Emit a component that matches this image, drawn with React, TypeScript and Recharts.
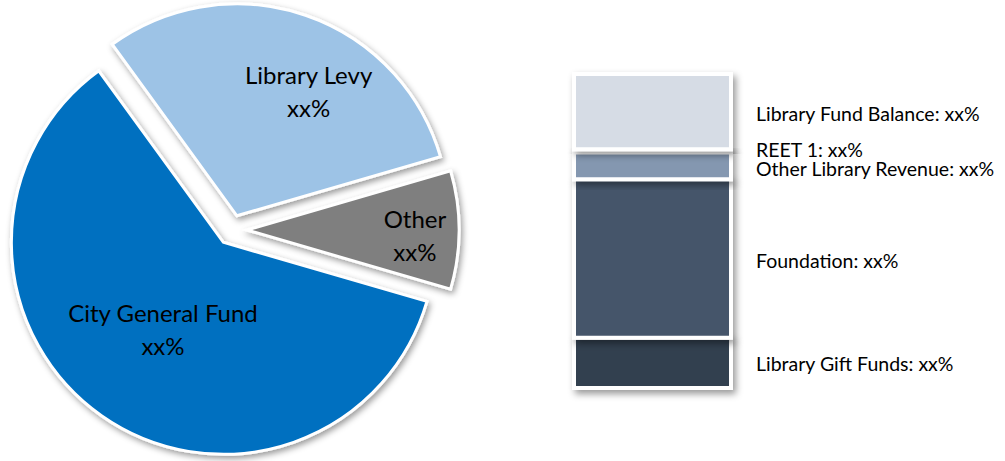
import React from 'react';
import { PieChart, Pie, Cell, BarChart, Bar, XAxis, YAxis, LabelList } from 'recharts';

// ---------- Pie data ----------
const pieCategories = ['Library Levy', 'Other', 'City General Fund'];
const pieValues = [30.5, 9, 60.5];
const pieValueLabels = ['xx%', 'xx%', 'xx%'];
const pieColors = ['#9DC3E6', '#7F7F7F', '#0070C0'];

// ---------- Stacked bar data (bottom to top) ----------
const barCategories = ['Library Gift Funds', 'Foundation', 'Other Library Revenue', 'REET 1', 'Library Fund Balance'];
const barValues = [16, 50.5, 8.5, 1, 24];
const barValueLabels = ['xx%', 'xx%', 'xx%', 'xx%', 'xx%'];
const barColors = ['#333F50', '#44546A', '#8497B0', '#ADB9CA', '#D6DCE5'];

// ---------- layout (not data) ----------
const W = 1005;
const H = 461;
const PIE_CX = 232;
const PIE_CY = 230;
const EXPLODE = 15;
const PIE_R = 212;
const START_ANGLE = 126;
const LABEL_DIST = [144, 168, 105];
const LABEL_ANGLE_SHIFT = [-11, -1.5, 0];
const BAR_LABEL_NUDGE = [1, 2, 3, -1, 2];
const FONT = 'Lato, "Open Sans", sans-serif';

const pieData = pieCategories.map((name, i) => ({ name, value: pieValues[i], label: pieValueLabels[i] }));
const pieTotal = pieValues.reduce((a, b) => a + b, 0);
const midAngles = pieValues.map((v, i) => {
  const before = pieValues.slice(0, i).reduce((a, b) => a + b, 0);
  return START_ANGLE - ((before + v / 2) / pieTotal) * 360;
});
const RAD = Math.PI / 180;

const barRow: Record<string, string | number> = { name: 'Library' };
barCategories.forEach((c, i) => {
  barRow[c] = barValues[i];
});
const barData = [barRow];

const makePieLabel = (k: number) => (props: any) => {
  if (props.index !== k) return null;
  const a = (props.midAngle + LABEL_ANGLE_SHIFT[k]) * RAD;
  const x = props.cx + LABEL_DIST[k] * Math.cos(a);
  const y = props.cy - LABEL_DIST[k] * Math.sin(a);
  return (
    <text x={x} y={y} textAnchor="middle" fontFamily={FONT} fontSize={24} fill="#000">
      <tspan x={x} y={y - 16} dominantBaseline="central">{pieCategories[k]}</tspan>
      <tspan x={x} y={y + 17} dominantBaseline="central">{pieValueLabels[k]}</tspan>
    </text>
  );
};

const makeBarLabel = (k: number) => (props: any) => {
  const { x, y, width, height } = props;
  const tx = Number(x) + Number(width) + 25;
  const ty = Number(y) + Number(height) / 2 + BAR_LABEL_NUDGE[k];
  return (
    <text x={tx} y={ty} dominantBaseline="central" fontFamily={FONT} fontSize={19.5} fill="#000">
      {barCategories[k]}: {barValueLabels[k]}
    </text>
  );
};

export default function App() {
  return (
    <div style={{ position: 'absolute', left: 0, top: 0, width: W, height: H, background: '#fff' }}>
      <div style={{ position: 'absolute', left: 0, top: 0 }}>
        <PieChart width={W} height={H} margin={{ top: 0, right: 0, bottom: 0, left: 0 }}>
          <defs>
            <filter id="pieShadow" x="-20%" y="-20%" width="140%" height="140%">
              <feDropShadow dx="2" dy="3" stdDeviation="3" floodColor="#000" floodOpacity="0.4" />
            </filter>
          </defs>
          {pieCategories.map((cat, k) => (
            <Pie
              key={cat}
              data={pieData}
              dataKey="value"
              nameKey="name"
              cx={PIE_CX + EXPLODE * Math.cos(midAngles[k] * RAD)}
              cy={PIE_CY - EXPLODE * Math.sin(midAngles[k] * RAD)}
              innerRadius={0}
              outerRadius={PIE_R}
              startAngle={START_ANGLE}
              endAngle={START_ANGLE - 360}
              isAnimationActive={false}
              labelLine={false}
              label={makePieLabel(k)}
            >
              {pieData.map((d, i) => (
                <Cell
                  key={d.name}
                  fill={i === k ? pieColors[i] : 'none'}
                  stroke={i === k ? '#fff' : 'none'}
                  strokeWidth={3}
                  filter={i === k ? 'url(#pieShadow)' : undefined}
                />
              ))}
            </Pie>
          ))}
        </PieChart>
      </div>
      <div style={{ position: 'absolute', left: 0, top: 0 }}>
        <BarChart
          width={W}
          height={H}
          data={barData}
          margin={{ top: 74, bottom: 73, left: 574, right: 274 }}
          barCategoryGap={0}
        >
          <defs>
            <filter id="barShadow" x="-20%" y="-20%" width="140%" height="160%">
              <feDropShadow dx="3" dy="4" stdDeviation="3.5" floodColor="#000" floodOpacity="0.4" />
            </filter>
          </defs>
          <XAxis dataKey="name" hide />
          <YAxis hide domain={[0, 100]} type="number" />
          {barCategories.map((c, i) => (
            <Bar
              key={c}
              dataKey={c}
              stackId="s"
              fill={barColors[i]}
              stroke="#fff"
              strokeWidth={4}
              filter="url(#barShadow)"
              isAnimationActive={false}
            >
              <LabelList dataKey={c} content={makeBarLabel(i)} />
            </Bar>
          ))}
        </BarChart>
      </div>
    </div>
  );
}
